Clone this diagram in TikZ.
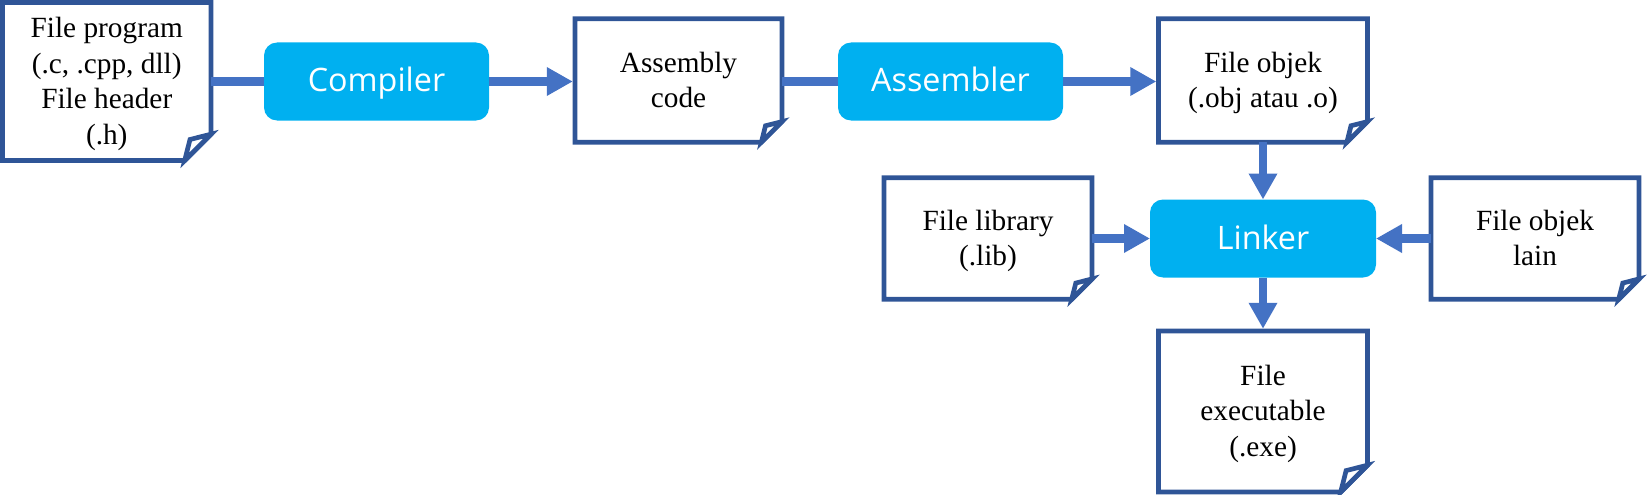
\documentclass[tikz,border=0pt]{standalone}
\usepackage{fontspec}
\setmainfont{Liberation Serif}
\newfontfamily\procfont{Open Sans}
\usetikzlibrary{arrows.meta}
\definecolor{docblue}{HTML}{2F5597}
\definecolor{connblue}{HTML}{4472C4}
\definecolor{procblue}{HTML}{00B0F0}
\newcommand\ls{\rule[-8.5pt]{0pt}{35.5pt}}
% #1 node name, #2 fold size, #3 0.8*fold
\newcommand\docoutline[3]{%
  \draw[docline] (#1.north west) -- (#1.north east) -- ([yshift=#2pt]#1.south east)
     -- ([xshift=-#2pt]#1.south east) -- (#1.south west) -- cycle;
  \draw[docline,fill=white] ([xshift=-#2pt]#1.south east) -- ([xshift=-#3pt,yshift=#3pt]#1.south east)
     -- ([yshift=#2pt]#1.south east) -- cycle;}
\begin{document}
\begin{tikzpicture}[x=1pt,y=-1pt,
  doc/.style={inner sep=0pt, outer sep=0pt, align=center, font=\fontsize{29.3}{35.5}\selectfont},
  docline/.style={draw=docblue, line width=4.7pt, line join=miter},
  proc/.style={fill=procblue, rounded corners=13pt, text=white, inner sep=0pt, outer sep=0pt,
     minimum width=225pt, minimum height=78pt, font=\procfont\fontsize{32.3}{38}\selectfont,
     text height=26pt, text depth=5pt},
  link/.style={draw=connblue, line width=8.5pt},
  arr/.style={link, -{Triangle[length=26pt,width=27pt]}},
]
\useasboundingbox (0,0) rectangle (1647,495);

% document boxes
\node[doc, minimum width=208.5pt, minimum height=158pt] (prog) at (106.75,81.5)
  {\ls File program\\\ls (.c, .cpp, dll)\\\ls File header\\\ls (.h)};
\node[doc, minimum width=207pt, minimum height=123.5pt] (asm) at (678.5,80.5)
  {\ls Assembly\\\ls code};
\node[doc, minimum width=209pt, minimum height=123.5pt] (obj) at (1263,80.5)
  {\ls File objek\\\ls (.obj atau .o)};
\node[doc, minimum width=208pt, minimum height=121.5pt] (lib) at (988,238.5)
  {\ls File library\\\ls (.lib)};
\node[doc, minimum width=208pt, minimum height=121.5pt] (lain) at (1535,238.5)
  {\ls File objek\\\ls lain};
\node[doc, minimum width=209pt, minimum height=161pt] (exe) at (1263,411.5)
  {\ls File\\\ls executable\\\ls (.exe)};

\docoutline{prog}{26.3}{21}
\docoutline{asm}{20.6}{16.5}
\docoutline{obj}{20.6}{16.5}
\docoutline{lib}{20.3}{16.2}
\docoutline{lain}{20.3}{16.2}
\docoutline{exe}{26.8}{21.4}

% process boxes
\node[proc] (comp) at (376.5,81.5) {Compiler};
\node[proc] (asmr) at (950.5,81.5) {Assembler};
\node[proc, minimum width=226pt] (link) at (1263,238.5) {Linker};

% connectors
\draw[link] (prog.east) -- (comp.west);
\draw[arr, shorten >=2.2pt] (comp.east) -- (asm.west |- comp.east);
\draw[link] (asm.east |- asmr.west) -- (asmr.west);
\draw[arr, shorten >=2.2pt] (asmr.east) -- (obj.west |- asmr.east);
\draw[arr] (obj.south) -- (link.north);
\draw[arr] (lib.east) -- (link.west);
\draw[arr] (lain.west) -- (link.east);
\draw[arr, shorten >=2.2pt] (link.south) -- (exe.north);
\end{tikzpicture}
\end{document}
